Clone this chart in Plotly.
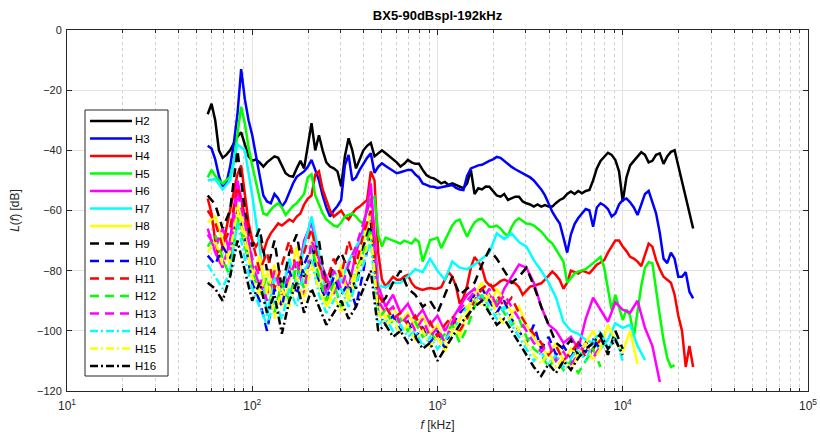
import plotly.graph_objects as go

TITLE = "BX5-90dBspl-192kHz"
NAMES = ["H2", "H3", "H4", "H5", "H6", "H7", "H8", "H9", "H10", "H11", "H12", "H13", "H14", "H15", "H16"]

# frequency grids (axis label says kHz)
F_FINE = [57.5, 60.3, 63.1, 66.1, 69.2, 72.4, 75.9, 79.4, 83.2, 87.1,
          91.2, 95.5, 100, 104.7, 109.6, 114.8, 120.2, 125.9, 131.8, 138.0,
          144.5, 151.4, 158.5, 166.0, 173.8, 182.0, 190.5, 199.5, 208.9, 218.8,
          229.1, 239.9, 251.2, 263.0, 275.4, 288.4, 302.0, 316.2, 331.1, 346.7,
          363.1, 380.2, 398.1, 416.9, 436.5, 457.1, 478.6, 501.2, 524.8, 549.5,
          575.4, 602.6, 631.0, 660.7, 691.8, 724.4, 758.6, 794.3, 831.8, 871.0,
          912.0, 955.0, 1000, 1047, 1096, 1148, 1202, 1259, 1318, 1380,
          1445, 1514, 1585, 1660, 1738, 1820, 1905, 1995, 2089, 2188,
          2291, 2399, 2512, 2630, 2754, 2884, 3020, 3162, 3311, 3467,
          3631, 3802, 3981, 4169, 4365, 4571, 4786, 5012, 5248, 5495,
          5754, 6026, 6310, 6607, 6918, 7244, 7586, 7943, 8318, 8710,
          9120, 9550, 10000, 10470, 10960, 11480, 12020, 12590, 13180, 13800,
          14450, 15140, 15850, 16600, 17380, 18200, 19050, 19950, 20890, 21880,
          22910, 23990, 25120]

F_COARSE = [57.5, 63.1, 69.2, 75.9, 83.2, 91.2, 100, 109.6, 120.2, 131.8,
            144.5, 158.5, 173.8, 190.5, 208.9, 229.1, 251.2, 275.4, 302.0, 331.1,
            363.1, 398.1, 436.5, 478.6, 524.8, 575.4, 631.0, 691.8, 758.6, 831.8,
            912.0, 1000, 1096, 1202, 1318, 1445, 1585, 1738, 1905, 2089,
            2291, 2512, 2754, 3020, 3311, 3631, 3981, 4365, 4786, 5248,
            5754, 6310, 6918, 7586, 8318, 9120, 10000, 10960, 12020, 13180,
            14450, 15850, 17380, 19050, 20890, 22910, 25120]

# levels in dB (fine grid)
H2 = [-28, -24.5, -30, -40, -42.5, -41.5, -40, -38, -35.5, -34,
      -38, -42, -43.5, -43, -44, -45.4, -44, -43, -42, -42.5,
      -45, -47.6, -48.5, -48.8, -46, -43.5, -46, -38, -31, -40,
      -35, -40, -44, -45.4, -46, -47, -52, -42, -36, -40,
      -46, -43, -40, -38.5, -37.5, -42, -41, -40, -41, -42,
      -43.2, -44, -45.4, -44.5, -43.2, -44, -44.5, -44.5, -46.5, -48.2,
      -49, -49.3, -50, -51, -50.5, -51.5, -51, -51.5, -52, -52.6,
      -51, -46.5, -54.5, -52.6, -53, -52, -52.1, -53.5, -55, -55.4,
      -54.5, -56.5, -56, -55.4, -55.4, -57, -57.6, -58, -58.7, -58,
      -58.7, -58.2, -58.7, -58.7, -57.5, -56.5, -55.9, -54.5, -53.7, -54.5,
      -53.5, -54.3, -53.5, -53.2, -50, -46, -43.5, -42, -40.8, -41.5,
      -43.2, -47, -57, -49, -45, -43.5, -42, -40.6, -41.5, -44,
      -43.5, -41.5, -41, -44.5, -42, -40.5, -40, -45.4, -50, -56,
      -61, -66]
H3 = [-38.5, -39.4, -43, -48.5, -52.3, -51, -45.5, -38, -28, -13,
      -23, -30, -35, -42, -48, -55, -57, -57.6, -54.5, -56,
      -58.7, -57, -54, -51, -48.8, -48, -47, -45.5, -43.2, -46.5,
      -50, -55, -59, -62, -60, -58.5, -56.5, -45, -41.5, -50,
      -49, -46.5, -44.3, -42.5, -41, -47.5, -45.5, -44.3, -45.2, -46,
      -47, -47.6, -47.3, -46.8, -46.5, -46.5, -48, -49, -51, -51.5,
      -52, -52.1, -52.5, -52.3, -52, -51.8, -51.5, -52.5, -53, -53.2,
      -48.5, -46, -45.5, -45, -44.8, -44, -43.5, -43, -42.2, -42.5,
      -43.5, -44.8, -45.5, -46.3, -47, -47.5, -48.2, -49, -50, -51.5,
      -53, -55, -58, -60.5, -62.5, -64.3, -69, -74, -68, -64.5,
      -62.5, -60.9, -59.5, -60, -65.4, -59, -57.6, -58.3, -59.5, -62,
      -61, -58, -56.5, -56, -57.3, -59, -61.5, -58, -54.5, -53.5,
      -57, -61, -67.5, -76, -77.5, -74, -76, -82, -82, -80.5,
      -87, -89.2]
H4 = [-56, -61, -70, -76, -72, -66, -60, -54, -48, -45,
      -55, -64, -70, -72, -70, -74, -70, -67.6, -66, -64.3,
      -65, -64, -63, -63.7, -62, -61, -58, -56, -55, -48,
      -47, -53, -56.5, -60, -62, -61, -60, -62, -63, -61,
      -59.5, -58.7, -57.5, -56.5, -47, -50, -74, -83, -85.3, -83.5,
      -82, -83, -83, -82, -81.4, -84, -85.5, -86, -86.4, -86,
      -85.8, -86, -85.9, -85.5, -83, -80.5, -82, -85.3, -91, -89,
      -85, -79, -75.5, -77, -79, -83.5, -84.8, -85.3, -84.5, -83.5,
      -83, -83.5, -84, -84.2, -85.5, -88, -86.5, -85.3, -85, -84.5,
      -84.2, -83, -81.5, -80.3, -81.5, -83.1, -86, -84, -80, -80.5,
      -81, -80, -80.5, -80.9, -79.5, -78, -77.3, -76.5, -74, -72,
      -70, -70, -72, -73.5, -75.4, -76, -77, -78.5, -75, -71,
      -72, -76.5, -79.5, -82, -83, -84, -88, -95, -100, -112,
      -105, -112]
H5 = [-49, -46.5, -48.5, -50, -51, -50, -48.8, -44, -35, -25.5,
      -31, -39, -45, -51, -56, -61, -61.5, -59.8, -58.5, -57.6,
      -59, -61.5, -60, -58.5, -57.6, -56, -54.5, -49, -48, -55,
      -58, -60.9, -63, -64, -65, -65.4, -64, -62, -61.5, -61,
      -62, -63.5, -64.3, -60, -56, -55.4, -68, -72, -69, -69.5,
      -70, -70.5, -71, -70, -70.5, -71, -69.5, -70.5, -77, -73,
      -69.8, -69.5, -69, -72.5, -70, -67, -65, -63.5, -63, -66,
      -68.7, -66, -64, -63, -62.8, -64, -65.4, -65.4, -65, -66,
      -67.5, -68.5, -65.5, -63.5, -62.6, -63.5, -64.3, -64.5, -65, -66,
      -67, -68.5, -70, -71, -73, -75, -77, -84, -82.5, -80.9,
      -80.3, -79.8, -79.5, -78.5, -77.6, -76.5, -75.4, -79, -86, -93,
      -88, -92, -96.4, -93, -95, -102, -94, -85, -79, -77.2,
      -77.5, -87, -95, -103, -109, -112, -111.4]

# levels in dB (coarse grid)
H6 = [-66, -74, -79, -70, -50, -62, -78, -85, -88, -80,
      -86, -78, -84, -70, -64, -76, -82, -88, -80, -86,
      -74, -66, -51, -85, -92, -88, -94, -91, -96, -93,
      -98, -95, -100, -96, -92, -88, -86, -90, -88, -92,
      -86, -82, -78, -79, -84, -92, -98, -100, -104, -102,
      -106, -96, -89, -93, -97, -90.5, -93, -94, -90, -99,
      -105, -117]
H7 = [-50, -49.5, -53, -50, -38, -40, -55, -72, -95, -82,
      -88, -76, -85, -72, -62, -74, -88, -80, -84, -77,
      -72, -68, -62, -85, -85.5, -84, -84, -82, -79.5, -80.5,
      -76, -80, -83, -77, -79, -79.5, -78, -76, -74, -67.6,
      -69.5, -67.6, -70.5, -72, -76.5, -80, -84, -89, -97, -100,
      -101, -103, -104, -106, -103, -97.5, -99, -98, -105, -109.7]
H8 = [-64, -62, -70, -78, -58, -66, -82, -75, -88, -78,
      -92, -84, -72, -86, -70, -80, -92, -86, -78, -90,
      -82, -70, -60, -90, -96, -92, -97, -94, -99, -95,
      -101, -98, -104, -96, -102, -94, -88, -84, -92, -86,
      -90, -94, -92, -98, -102, -106, -108, -104, -110, -106,
      -109, -104, -100, -106, -98, -103, -107, -100, -111]
H9 = [-55, -58, -66, -60, -40, -60, -72, -66, -80, -70,
      -86, -74, -68, -82, -76, -70, -86, -78, -74, -80,
      -86, -72, -64, -92, -89, -84, -80, -86, -88, -92,
      -90, -94, -88, -82, -88, -86, -84, -78, -73, -76,
      -80, -84, -82, -79, -85, -92, -98, -104, -106, -103,
      -108, -104, -106, -102, -108, -100, -106]
H10 = [-75, -78, -72, -76, -60, -70, -84, -90, -100, -86,
       -92, -80, -88, -78, -72, -84, -90, -82, -88, -84,
       -92, -80, -66, -94, -98, -95, -100, -97, -102, -99,
       -104, -100, -106, -98, -94, -92, -88, -86, -90, -94,
       -90, -96, -100, -104, -98, -106, -102, -108, -105, -109,
       -104, -107, -103, -106]
H11 = [-60, -64, -72, -66, -52, -62, -70, -80, -74, -86,
       -78, -70, -80, -74, -66, -78, -84, -76, -82, -70,
       -78, -68, -60, -88, -92, -96, -94, -98, -95, -100,
       -97, -102, -98, -95, -100, -96, -90, -86, -84, -88,
       -92, -89, -94, -98, -101, -104, -108, -105, -110, -107,
       -104, -109, -106, -103]
H12 = [-72, -68, -76, -82, -62, -72, -80, -88, -82, -94,
       -84, -90, -78, -86, -72, -82, -90, -84, -92, -86,
       -80, -74, -66, -96, -93, -98, -96, -100, -97, -102,
       -100, -104, -101, -98, -104, -99, -92, -88, -94, -90,
       -94, -98, -96, -102, -106, -108, -112, -109, -113, -110,
       -114, -110, -106, -112]
H13 = [-68, -72, -66, -74, -54, -64, -76, -82, -90, -80,
       -88, -82, -76, -88, -70, -76, -88, -80, -86, -78,
       -72, -64, -56, -90, -94, -92, -98, -95, -100, -96,
       -102, -99, -104, -97, -93, -90, -87, -90, -86, -92,
       -88, -92, -96, -100, -104, -107, -104, -110, -107, -111,
       -108, -104, -109, -105]
H14 = [-78, -82, -86, -80, -64, -76, -86, -92, -98, -90,
       -96, -86, -92, -80, -76, -88, -94, -90, -86, -92,
       -84, -78, -70, -98, -96, -100, -98, -102, -100, -105,
       -102, -106, -103, -100, -96, -92, -90, -88, -92, -96,
       -92, -98, -102, -106, -110, -107, -111, -108, -112, -109,
       -106, -110, -104, -100, -106, -102, -110]
H15 = [-74, -70, -78, -74, -60, -70, -82, -88, -80, -96,
       -86, -92, -82, -90, -78, -86, -92, -88, -94, -86,
       -80, -76, -68, -94, -98, -96, -101, -98, -103, -100,
       -105, -102, -107, -100, -96, -92, -89, -92, -88, -94,
       -98, -95, -100, -104, -108, -111, -107, -112, -109, -113,
       -108, -104, -110, -106]
H16 = [-84, -86, -90, -82, -70, -80, -90, -84, -94, -88,
       -101, -90, -84, -94, -86, -92, -98, -94, -90, -96,
       -92, -86, -80, -100, -98, -102, -100, -104, -102, -106,
       -104, -110, -106, -102, -98, -95, -92, -90, -94, -98,
       -96, -100, -104, -108, -112, -115, -111, -114, -110, -113,
       -109, -106, -104, -101, -106, -103, -108]

SERIES = [H2, H3, H4, H5, H6, H7, H8, H9, H10, H11, H12, H13, H14, H15, H16]
GRIDS = [F_FINE] * 4 + [F_COARSE] * 11
COLORS = ["#000000", "#0000ff", "#ff0000", "#00ff00", "#ff00ff", "#00ffff", "#ffff00",
          "#000000", "#0000ff", "#ff0000", "#00ff00", "#ff00ff",
          "#00ffff", "#ffff00", "#000000"]
DASHES = ["solid"] * 7 + ["9px,6px"] * 5 + ["8px,3px,2px,3px"] * 3

X_TICKS = [10, 100, 1000, 10000, 100000]
X_TICKTEXT = ["10<sup>1</sup>", "10<sup>2</sup>", "10<sup>3</sup>", "10<sup>4</sup>", "10<sup>5</sup>"]
X_MINOR = [m * 10 ** k for k in range(1, 5) for m in range(2, 10)]
Y_TICKS = [0, -20, -40, -60, -80, -100, -120]

# layout geometry (pixels)
W, H = 820, 440
ML, MR, MT, MB = 67, 12, 30, 49
PW, PH = W - ML - MR, H - MT - MB


def px(x):
    return (x - ML) / PW


def py(y):
    return 1 - (y - MT) / PH


fig = go.Figure()
for name, ys, fx, col, dash in zip(NAMES, SERIES, GRIDS, COLORS, DASHES):
    fig.add_trace(go.Scatter(
        x=fx[:len(ys)], y=ys, name=name, mode="lines",
        line=dict(color=col, width=2.5, dash=dash),
    ))

AX = "#262626"

# hand-built legend box (compact MATLAB-like spacing)
LEG_L, LEG_R, LEG_T, LEG_B = 85, 168, 110, 376
ROW0, ROWSTEP = 121, 17.5
shapes = [dict(type="rect", xref="paper", yref="paper",
               x0=px(LEG_L), x1=px(LEG_R), y0=py(LEG_B), y1=py(LEG_T),
               fillcolor="white", line=dict(color=AX, width=1), layer="above")]
annotations = []
for i, (name, col, dash) in enumerate(zip(NAMES, COLORS, DASHES)):
    yc = ROW0 + i * ROWSTEP
    shapes.append(dict(type="line", xref="paper", yref="paper",
                       x0=px(90), x1=px(132), y0=py(yc), y1=py(yc),
                       line=dict(color=col, width=2.5, dash=dash), layer="above"))
    annotations.append(dict(text=name, xref="paper", yref="paper",
                            x=px(133), y=py(yc), xanchor="left", yanchor="middle",
                            showarrow=False,
                            font=dict(size=11.5, color="#000000")))

fig.update_layout(
    width=W, height=H,
    margin=dict(l=ML, r=MR, t=MT, b=MB, autoexpand=False),
    paper_bgcolor="white", plot_bgcolor="white",
    font=dict(family="Liberation Sans, Arial, sans-serif", size=11, color=AX),
    title=dict(text="<b>" + TITLE + "</b>", x=0.5, xref="paper", xanchor="center",
               y=1 - 15 / H, yref="container", yanchor="middle",
               font=dict(size=13, color="#000000")),
    showlegend=False,
    shapes=shapes,
    annotations=annotations,
)
fig.update_xaxes(
    type="log", range=[1, 5], automargin=False,
    tickvals=X_TICKS, ticktext=X_TICKTEXT,
    ticks="inside", ticklen=5, tickcolor=AX,
    showline=True, linecolor=AX, linewidth=1, mirror="ticks",
    showgrid=True, gridcolor="#e3e3e3", gridwidth=1,
    zeroline=False,
    minor=dict(tickvals=X_MINOR, ticks="inside", ticklen=3, tickcolor=AX,
               showgrid=True, gridcolor="#cfcfcf", griddash="dot", gridwidth=1),
    tickfont=dict(size=12, color=AX),
    ticklabelstandoff=4,
    title=dict(text="<i>f</i> [kHz]", font=dict(size=12, color=AX), standoff=8),
)
fig.update_yaxes(
    range=[-120, 0], automargin=False, tickvals=Y_TICKS,
    ticks="inside", ticklen=5, tickcolor=AX,
    showline=True, linecolor=AX, linewidth=1, mirror="ticks",
    showgrid=True, gridcolor="#e3e3e3", gridwidth=1,
    zeroline=False,
    tickfont=dict(size=11, color=AX),
    ticklabelstandoff=2,
    title=dict(text="<i>L</i>(<i>f</i>) [dB]", font=dict(size=12, color=AX), standoff=14),
)

fig.write_html("out.html")
